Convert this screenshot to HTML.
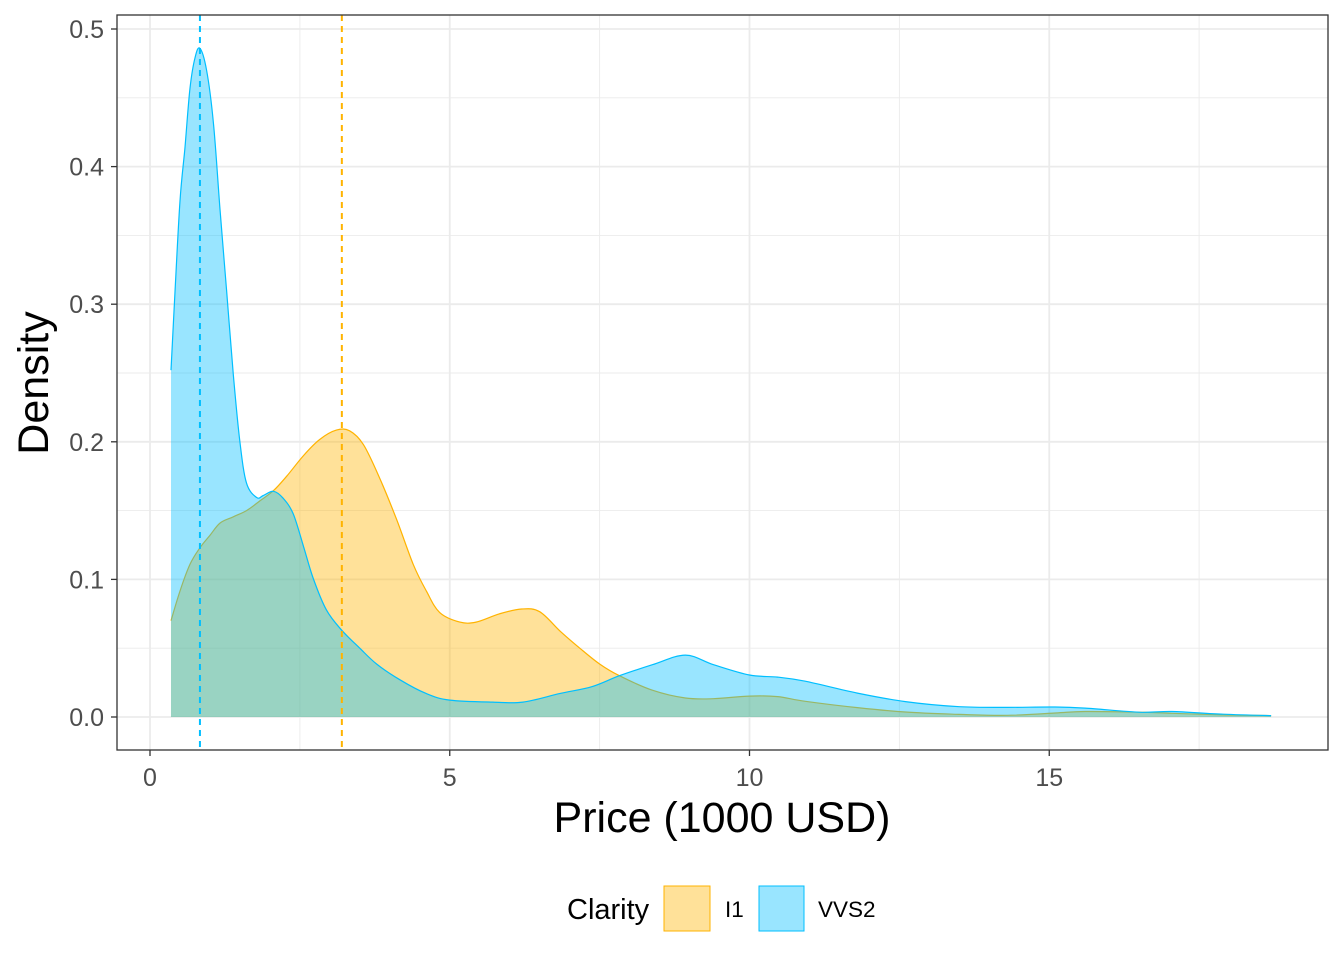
<!DOCTYPE html>
<html><head><meta charset="utf-8"><style>
html,body{margin:0;padding:0;background:#fff;}
svg{display:block;font-family:"Liberation Sans",Arial,sans-serif;}
</style></head><body>
<svg id="chart" width="1344" height="960" viewBox="0 0 1344 960" xmlns="http://www.w3.org/2000/svg">
<rect x="0" y="0" width="1344" height="960" fill="#fff"/>
<g id="grid"></g>
<g id="marks"></g>
<rect x="117" y="15" width="1211" height="735" fill="none" stroke="#333" stroke-width="1.3"/>
<g id="axes"></g>
<text x="722" y="832" font-size="43" text-anchor="middle" fill="#000">Price (1000 USD)</text>
<text transform="translate(48,383) rotate(-90)" font-size="43" text-anchor="middle" fill="#000">Density</text>
<g>
<text x="567" y="919" font-size="29" fill="#000">Clarity</text>
<rect x="664" y="886" width="46" height="45" fill="rgba(255,179,0,0.4)" stroke="#FFB300" stroke-width="1"/>
<text x="725" y="917" font-size="22.5" fill="#000">I1</text>
<rect x="759" y="886" width="45" height="45" fill="rgba(0,191,255,0.4)" stroke="#00BFFF" stroke-width="1"/>
<text x="818" y="917" font-size="22.5" fill="#000">VVS2</text>
</g>
</svg>
<script>
const xTicks = [0, 5, 10, 15];
const yTicks = [0.0, 0.1, 0.2, 0.3, 0.4, 0.5];
const yTickLabels = ["0.0", "0.1", "0.2", "0.3", "0.4", "0.5"];
const i1X = [0.35,0.5,0.667,0.833,1.0,1.17,1.39,1.61,1.83,2.06,2.28,2.56,2.83,3.11,3.33,3.56,3.83,4.11,4.39,4.61,4.83,5.17,5.44,5.83,6.2,6.5,6.85,7.17,7.5,7.83,8.38,8.93,9.4,10,10.47,10.93,11.8,12.6,13.5,14.3,15.1,15.6,16.5,17.05,17.9,18.7];
const i1Y = [0.070,0.0915,0.111,0.123,0.132,0.141,0.1455,0.150,0.157,0.1645,0.175,0.190,0.2017,0.2085,0.208,0.198,0.1737,0.144,0.111,0.0915,0.076,0.069,0.069,0.075,0.0785,0.0765,0.062,0.050,0.0385,0.030,0.0195,0.0138,0.0133,0.0152,0.0148,0.0114,0.0068,0.0036,0.0019,0.0012,0.0029,0.004,0.0035,0.0027,0.0015,0.001];
const vvs2X = [0.35,0.417,0.5,0.583,0.667,0.75,0.833,0.944,1.06,1.17,1.28,1.39,1.5,1.61,1.78,1.89,2.06,2.22,2.39,2.56,2.72,2.94,3.2,3.5,3.78,4.17,4.61,5.0,5.72,6.22,6.83,7.37,7.83,8.38,8.93,9.4,10,10.47,10.93,11.8,12.6,13.5,14.3,15.1,15.6,16.5,17.05,17.9,18.7];
const vvs2Y = [0.252,0.309,0.375,0.414,0.457,0.479,0.486,0.470,0.431,0.368,0.309,0.249,0.200,0.170,0.1595,0.161,0.164,0.159,0.1475,0.124,0.101,0.078,0.063,0.050,0.0385,0.027,0.017,0.0123,0.0108,0.0108,0.017,0.022,0.030,0.038,0.045,0.038,0.0305,0.029,0.026,0.0174,0.0112,0.0075,0.007,0.0073,0.0065,0.0035,0.004,0.002,0.001];
const meanI1 = 3.2;
const meanVVS2 = 0.833;

const NS = "http://www.w3.org/2000/svg";
const sx = v => 150 + v * 59.95;
const sy = v => 717 - v * 1376;
function mk(tag, attrs, parent) {
  const e = document.createElementNS(NS, tag);
  for (const k in attrs) e.setAttribute(k, attrs[k]);
  parent.appendChild(e);
  return e;
}
const grid = document.getElementById('grid');
const marks = document.getElementById('marks');
const axes = document.getElementById('axes');
for (let i = 0; i < xTicks.length; i++) {
  const v = xTicks[i] + 2.5;
  const l = mk('line', {x1: sx(v), x2: sx(v), y1: 15, y2: 750, stroke: '#ebebeb', 'stroke-width': 0.9}, grid);
  
  
}
for (let i = 0; i < yTicks.length; i++) {
  const v = yTicks[i] + 0.05;
  if (v > 0.52) continue;
  const l = mk('line', {x1: 117, x2: 1328, y1: sy(v), y2: sy(v), stroke: '#ebebeb', 'stroke-width': 0.9}, grid);
  
  
}
xTicks.forEach((v, i) => {
  const l = mk('line', {x1: sx(v), x2: sx(v), y1: 15, y2: 750, stroke: '#ebebeb', 'stroke-width': 1.8}, grid);
  
  
  const t = mk('line', {x1: sx(v), x2: sx(v), y1: 750, y2: 756, stroke: '#333', 'stroke-width': 1.3}, axes);
  
  
  const tx = mk('text', {x: sx(v), y: 786, 'font-size': 25, 'text-anchor': 'middle', fill: '#4d4d4d'}, axes);
  tx.textContent = String(v);
  
  
});
yTicks.forEach((v, i) => {
  const l = mk('line', {x1: 117, x2: 1328, y1: sy(v), y2: sy(v), stroke: '#ebebeb', 'stroke-width': 1.8}, grid);
  
  
  const t = mk('line', {x1: 111, x2: 117, y1: sy(v), y2: sy(v), stroke: '#333', 'stroke-width': 1.3}, axes);
  
  
  const tx = mk('text', {x: 104, y: sy(v) + 9, 'font-size': 25, 'text-anchor': 'end', fill: '#4d4d4d'}, axes);
  tx.textContent = yTickLabels[i];
  
  
});
function smooth(xs, ys) {
  const p = xs.map((x, i) => [sx(x), sy(ys[i])]);
  let d = 'M' + p[0][0].toFixed(1) + ',' + p[0][1].toFixed(1);
  for (let i = 0; i < p.length - 1; i++) {
    const p0 = p[Math.max(0, i - 1)], p1 = p[i], p2 = p[i + 1], p3 = p[Math.min(p.length - 1, i + 2)];
    const c1x = p1[0] + (p2[0] - p0[0]) / 6, c1y = p1[1] + (p2[1] - p0[1]) / 6;
    const c2x = p2[0] - (p3[0] - p1[0]) / 6, c2y = p2[1] - (p3[1] - p1[1]) / 6;
    d += ' C' + c1x.toFixed(1) + ',' + c1y.toFixed(1) + ' ' + c2x.toFixed(1) + ',' + c2y.toFixed(1) + ' ' + p2[0].toFixed(1) + ',' + p2[1].toFixed(1);
  }
  return d;
}
function areaPath(xs, ys) {
  return 'M' + sx(xs[0]) + ',' + sy(0) + ' L' + smooth(xs, ys).slice(1) + ' L' + sx(xs[xs.length - 1]) + ',' + sy(0) + ' Z';
}
const a1 = mk('path', {d: areaPath(i1X, i1Y), fill: 'rgba(255,179,0,0.4)', stroke: 'none'}, marks);


const l1 = mk('path', {d: smooth(i1X, i1Y), fill: 'none', stroke: '#FFB300', 'stroke-width': 1.2}, marks);


const a2 = mk('path', {d: areaPath(vvs2X, vvs2Y), fill: 'rgba(0,191,255,0.4)', stroke: 'none'}, marks);


const l2 = mk('path', {d: smooth(vvs2X, vvs2Y), fill: 'none', stroke: '#00BFFF', 'stroke-width': 1.2}, marks);


const m1 = mk('line', {x1: sx(meanI1), x2: sx(meanI1), y1: 15, y2: 750, stroke: '#FFB300', 'stroke-width': 2, 'stroke-dasharray': '6,5'}, marks);


const m2 = mk('line', {x1: sx(meanVVS2), x2: sx(meanVVS2), y1: 15, y2: 750, stroke: '#00BFFF', 'stroke-width': 2, 'stroke-dasharray': '6,5'}, marks);


</script>
</body></html>
